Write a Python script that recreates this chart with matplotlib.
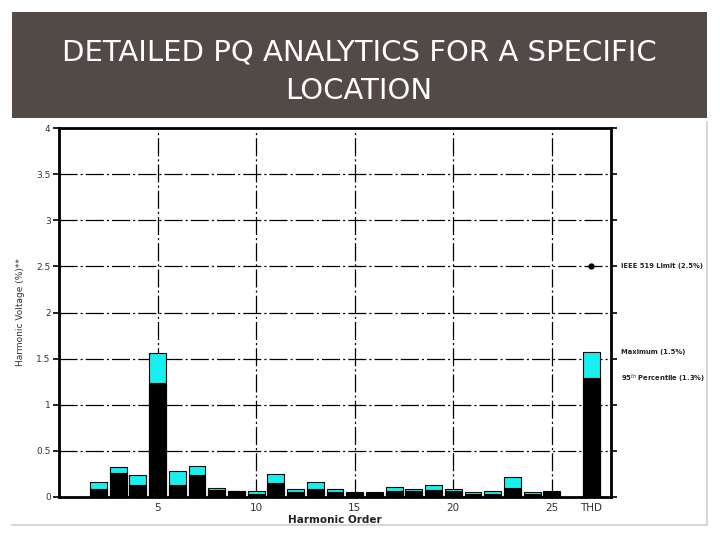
import matplotlib
matplotlib.use("Agg")
import matplotlib.pyplot as plt
import matplotlib.transforms as mtransforms
from matplotlib.patches import Rectangle
from matplotlib.lines import Line2D

plt.rcParams["lines.scale_dashes"] = False

# ---- data ----
harmonics = list(range(2, 26))
max_vals = [0.166, 0.325, 0.242, 1.564, 0.285, 0.336, 0.098, 0.069, 0.065, 0.246,
            0.087, 0.166, 0.090, 0.058, 0.058, 0.108, 0.087, 0.134, 0.087, 0.058,
            0.065, 0.213, 0.058, 0.069]
p95_vals = [0.090, 0.264, 0.130, 1.240, 0.130, 0.235, 0.080, 0.069, 0.036, 0.155,
            0.058, 0.088, 0.058, 0.043, 0.047, 0.069, 0.061, 0.076, 0.061, 0.036,
            0.036, 0.100, 0.036, 0.054]
thd_pos = 27
thd_max = 1.57
thd_p95 = 1.286
ieee_limit = 2.5
xticks = [5, 10, 15, 20, 25, 27]
xticklabels = ["5", "10", "15", "20", "25", "THD"]
yticks = [0, 0.5, 1, 1.5, 2, 2.5, 3, 3.5, 4]
yticklabels = ["0", "0.5", "1", "1.5", "2", "2.5", "3", "3.5", "4"]
title_lines = ["DETAILED PQ ANALYTICS FOR A SPECIFIC", "LOCATION"]

W, H = 720, 540
fig = plt.figure(figsize=(7.2, 5.4), dpi=100)
fig.patch.set_facecolor("white")

def fx(px):
    return px / W

def fy(py):
    return 1 - py / H

# banner
fig.patches.append(Rectangle((fx(12), fy(118)), fx(707) - fx(12), fy(12) - fy(118),
                             transform=fig.transFigure, facecolor="#524a47",
                             edgecolor="none", zorder=-2))
fig.text(fx(359), fy(52), title_lines[0], color="white", fontsize=21,
         ha="center", va="center", family="DejaVu Sans")
fig.text(fx(359), fy(91), title_lines[1], color="white", fontsize=21,
         ha="center", va="center", family="DejaVu Sans")

# picture frame lines
fig.lines.append(Line2D([fx(707), fx(707)], [fy(122), fy(525)], transform=fig.transFigure,
                        color="#d0d0cc", lw=1.2, zorder=-1))
fig.lines.append(Line2D([fx(12), fx(707)], [fy(525), fy(525)], transform=fig.transFigure,
                        color="#d0d0cc", lw=1.2, zorder=-1))

ax = fig.add_axes([fx(59), fy(497), fx(611) - fx(59), fy(128) - fy(497)])
ax.set_xlim(0, 28)
ax.set_ylim(0, 4)

dashdot = (0, (13, 2.2, 1.5, 2.2))
for y in yticks[1:-1]:
    ax.axhline(y, color="black", lw=0.9, linestyle=dashdot, zorder=1)
for x in [5, 10, 15, 20, 25]:
    ax.axvline(x, color="black", lw=0.9, linestyle=dashdot, zorder=1)

bw = 0.85
ax.bar(harmonics, max_vals, width=bw, color="#18f0f0", edgecolor="black", lw=0.8, zorder=2)
ax.bar(harmonics, p95_vals, width=bw, color="black", edgecolor="black", lw=0.8, zorder=3)
ax.bar([thd_pos], [thd_max], width=bw, color="#18f0f0", edgecolor="black", lw=0.8, zorder=2)
ax.bar([thd_pos], [thd_p95], width=bw, color="black", edgecolor="black", lw=0.8, zorder=3)

ax.plot([thd_pos], [ieee_limit], "o", color="black", ms=3.5, zorder=4)

for s in ax.spines.values():
    s.set_linewidth(2.0)
    s.set_color("black")

ax.set_xticks(xticks)
ax.set_xticklabels(xticklabels, fontsize=7.5, color="#333333")
ax.set_yticks(yticks)
ax.set_yticklabels(yticklabels, fontsize=6.5, color="#333333")
ax.tick_params(axis="x", length=0, pad=4)
ax.tick_params(axis="y", length=4, width=1.2, direction="out", left=True, right=True, pad=2)

ax.set_xlabel("Harmonic Order", fontsize=7.5, fontweight="bold", color="#222222", labelpad=2)
ax.set_ylabel("Harmonic Voltage (%)**", fontsize=6.5, color="#333333", labelpad=8)

trans = mtransforms.blended_transform_factory(ax.transAxes, ax.transData)
tx = (621 - 59) / (611 - 59)
ax.text(tx, ieee_limit, "IEEE 519 Limit (2.5%)", transform=trans, fontsize=4.9,
        fontweight="bold", color="#222222", va="center", ha="left", clip_on=False)
ax.text(tx, thd_max, "Maximum (1.5%)", transform=trans, fontsize=4.9,
        fontweight="bold", color="#222222", va="center", ha="left", clip_on=False)
ax.text(tx, thd_p95, "95$^{th}$ Percentile (1.3%)", transform=trans, fontsize=4.9,
        fontweight="bold", color="#222222", va="center", ha="left", clip_on=False)

fig.savefig("out.png", dpi=100)
